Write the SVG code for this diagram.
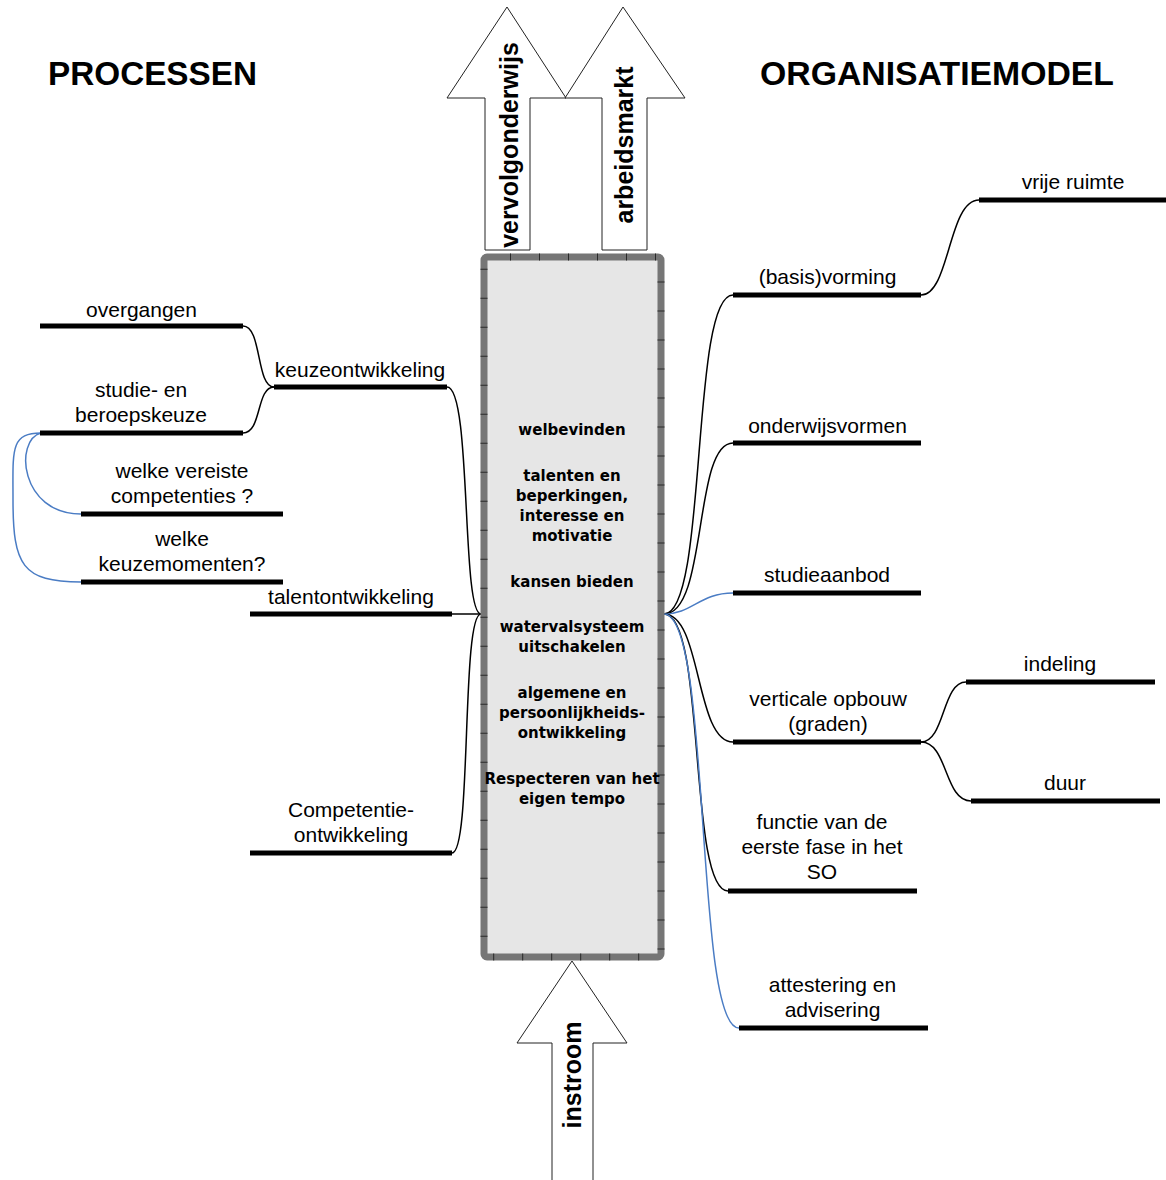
<svg xmlns="http://www.w3.org/2000/svg" width="1166" height="1180" viewBox="0 0 1166 1180">
<style>
.h{font-family:"Liberation Sans",Arial,sans-serif;font-weight:bold;font-size:33px;fill:#000}
.a{font-family:"Liberation Sans",Arial,sans-serif;font-weight:bold;font-size:25px;fill:#000;text-anchor:middle}
.b{font-family:"DejaVu Sans",Verdana,sans-serif;font-weight:bold;font-size:15px;fill:#000;text-anchor:middle}
.t{font-family:"Liberation Sans",Arial,sans-serif;font-size:21px;fill:#000;text-anchor:middle}
.bar{stroke:#000;stroke-width:5;fill:none}
.c{stroke:#000;stroke-width:1.5;fill:none}
.cb{stroke:#4a7cc4;stroke-width:1.5;fill:none}
.arrow{fill:#fff;stroke:#222;stroke-width:1}
</style>
<rect width="1166" height="1180" fill="#fff"/>

<text class="h" x="48" y="85" textLength="209" lengthAdjust="spacingAndGlyphs">PROCESSEN</text>
<text class="h" x="760" y="85" textLength="354" lengthAdjust="spacingAndGlyphs">ORGANISATIEMODEL</text>

<g id="arrow-vervolgonderwijs">
<polygon class="arrow" points="485,250 485,98 447,98 507,7 566,98 530,98 530,250"/>
<text class="a" transform="translate(518,145) rotate(-90)">vervolgonderwijs</text>
</g>
<g id="arrow-arbeidsmarkt">
<polygon class="arrow" points="602,250 602,98 565,98 623,7 685,98 647,98 647,250"/>
<text class="a" transform="translate(633,145) rotate(-90)">arbeidsmarkt</text>
</g>
<g id="arrow-instroom">
<polygon class="arrow" points="552,1185 552,1043 517,1043 572,961 627,1043 593,1043 593,1185"/>
<text class="a" transform="translate(581,1075) rotate(-90)">instroom</text>
</g>

<g id="connectors">
<path class="c" d="M243,326 C262,326 256,387 274,387"/>
<path class="c" d="M243,433 C262,433 256,387 274,387"/>
<path class="c" d="M447,387 C472,387 461,614 481,614"/>
<path class="c" d="M452,614 L481,614"/>
<path class="c" d="M452,853 C472,853 461,614 481,614"/>
<path class="cb" d="M41,433 C14,440 20,514 81,514"/>
<path class="cb" d="M41,433 C10,433 13,450 13,500 C13,565 22,582 81,582"/>

<path class="c" d="M664,614 C708,614 690,295 733,295"/>
<path class="c" d="M664,614 C708,614 693,443 733,443"/>
<path class="cb" d="M664,614 C692,614 700,593 733,593"/>
<path class="c" d="M664,614 C702,614 695,742 733,742"/>
<path class="c" d="M664,614 C706,614 688,891 728,891"/>
<path class="cb" d="M664,614 C712,614 694,1028 739,1028"/>
<path class="c" d="M921,295 C950,295 948,200 979,200"/>
<path class="c" d="M921,742 C945,742 942,682 966,682"/>
<path class="c" d="M921,742 C948,742 944,801 971,801"/>
</g>

<g id="center-box">
<rect x="484" y="257" width="177" height="700" rx="3" fill="#e6e6e6" stroke="#767676" stroke-width="7"/>
<rect x="484" y="257" width="177" height="700" rx="3" fill="none" stroke="#2a2a2a" stroke-width="7" stroke-dasharray="1 28" stroke-dashoffset="6"/>
<text class="b" x="572" y="435">welbevinden</text>
<text class="b" x="572" y="481">talenten en</text>
<text class="b" x="572" y="501">beperkingen,</text>
<text class="b" x="572" y="521">interesse en</text>
<text class="b" x="572" y="541">motivatie</text>
<text class="b" x="572" y="587">kansen bieden</text>
<text class="b" x="572" y="632">watervalsysteem</text>
<text class="b" x="572" y="652">uitschakelen</text>
<text class="b" x="572" y="698">algemene en</text>
<text class="b" x="572" y="718">persoonlijkheids-</text>
<text class="b" x="572" y="738">ontwikkeling</text>
<text class="b" x="572" y="784">Respecteren van het</text>
<text class="b" x="572" y="804">eigen tempo</text>
</g>

<g id="overgangen"><line class="bar" x1="40" y1="326" x2="243" y2="326"/><text class="t" x="141.5" y="317">overgangen</text></g>
<g id="keuzeontwikkeling"><line class="bar" x1="274" y1="387" x2="447" y2="387"/><text class="t" x="360" y="377">keuzeontwikkeling</text></g>
<g id="studie-beroepskeuze"><line class="bar" x1="40" y1="433" x2="243" y2="433"/><text class="t" x="141" y="397">studie- en</text><text class="t" x="141" y="422">beroepskeuze</text></g>
<g id="competenties"><line class="bar" x1="81" y1="514" x2="283" y2="514"/><text class="t" x="182" y="478">welke vereiste</text><text class="t" x="182" y="503">competenties ?</text></g>
<g id="keuzemomenten"><line class="bar" x1="81" y1="582" x2="283" y2="582"/><text class="t" x="182" y="546">welke</text><text class="t" x="182" y="571">keuzemomenten?</text></g>
<g id="talentontwikkeling"><line class="bar" x1="250" y1="614" x2="452" y2="614"/><text class="t" x="351" y="604">talentontwikkeling</text></g>
<g id="competentieontwikkeling"><line class="bar" x1="250" y1="853" x2="452" y2="853"/><text class="t" x="351" y="817">Competentie-</text><text class="t" x="351" y="842">ontwikkeling</text></g>

<g id="basisvorming"><line class="bar" x1="733" y1="295" x2="921" y2="295"/><text class="t" x="827.5" y="284">(basis)vorming</text></g>
<g id="vrije-ruimte"><line class="bar" x1="979" y1="200" x2="1166" y2="200"/><text class="t" x="1073" y="189">vrije ruimte</text></g>
<g id="onderwijsvormen"><line class="bar" x1="733" y1="443" x2="921" y2="443"/><text class="t" x="827.5" y="433">onderwijsvormen</text></g>
<g id="studieaanbod"><line class="bar" x1="733" y1="593" x2="921" y2="593"/><text class="t" x="827" y="582">studieaanbod</text></g>
<g id="verticale-opbouw"><line class="bar" x1="733" y1="742" x2="921" y2="742"/><text class="t" x="828" y="706">verticale opbouw</text><text class="t" x="828" y="731">(graden)</text></g>
<g id="indeling"><line class="bar" x1="966" y1="682" x2="1155" y2="682"/><text class="t" x="1060" y="671">indeling</text></g>
<g id="duur"><line class="bar" x1="971" y1="801" x2="1160" y2="801"/><text class="t" x="1065" y="790">duur</text></g>
<g id="functie"><line class="bar" x1="728" y1="891" x2="917" y2="891"/><text class="t" x="822" y="829">functie van de</text><text class="t" x="822" y="854">eerste fase in het</text><text class="t" x="822" y="879">SO</text></g>
<g id="attestering"><line class="bar" x1="739" y1="1028" x2="928" y2="1028"/><text class="t" x="832.5" y="992">attestering en</text><text class="t" x="832.5" y="1017">advisering</text></g>
</svg>
